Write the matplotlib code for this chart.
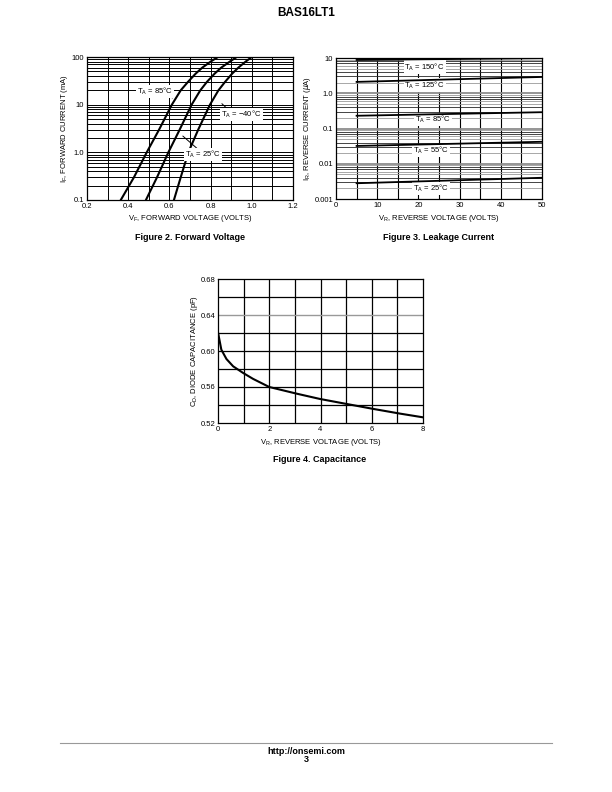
#!/usr/bin/env python3
"""BAS16LT1 datasheet page 3: forward voltage, leakage current, capacitance."""
import matplotlib
matplotlib.use("Agg")
import matplotlib.pyplot as plt
from matplotlib.ticker import FixedLocator, NullFormatter

plt.rcParams["font.family"] = ["Liberation Sans", "DejaVu Sans"]
plt.rcParams["mathtext.fontset"] = "custom"
plt.rcParams["mathtext.rm"] = "Liberation Sans"

W, H = 612, 792

# Figure 2: forward voltage (VF volts, IF mA)
IF_PTS = [0.1, 0.3, 1, 3, 10, 20, 30, 45, 60, 80, 100]
VF_85 = [0.364, 0.428, 0.49, 0.55, 0.612, 0.655, 0.690, 0.728, 0.760, 0.800, 0.836]
VF_25 = [0.486, 0.540, 0.595, 0.65, 0.708, 0.750, 0.782, 0.820, 0.852, 0.893, 0.927]
VF_M40 = [0.622, 0.655, 0.692, 0.74, 0.797, 0.838, 0.870, 0.905, 0.935, 0.970, 1.000]

# Figure 3: leakage current (VR volts, IR uA)
VR_PTS = [5, 50]
IR_150 = [8.8, 9.9]
IR_125 = [2.1, 2.9]
IR_85 = [0.23, 0.29]
IR_55 = [0.032, 0.042]
IR_25 = [0.0028, 0.004]

# Figure 4: capacitance (VR volts, CD pF)
VR_CAP = [0, 0.13, 0.33, 0.59, 0.98, 1.37, 2.0, 3.07, 3.98, 5.03, 6.07, 7.11, 8.0]
CD_CAP = [0.6207, 0.6015, 0.5911, 0.583, 0.5756, 0.569, 0.560, 0.5526,
          0.5467, 0.5411, 0.5356, 0.5304, 0.5263]

TICK_FS = 5.5
LAB_FS = 5.5
CAP_FS = 6.5


def rect(left, top, right, bottom):
    return [left / W, 1 - bottom / H, (right - left) / W, (bottom - top) / H]


def log_minor(lo_exp, hi_exp):
    vals = []
    for e in range(lo_exp, hi_exp):
        for m in range(2, 10):
            vals.append(m * 10.0 ** e)
    return vals


def style_axes(ax):
    for sp in ax.spines.values():
        sp.set_linewidth(0.9)
        sp.set_color("black")
    ax.tick_params(which="both", length=0, labelsize=TICK_FS, pad=2)


def tlabel(ax, x, y, s):
    ax.text(x, y, s, fontsize=5.5, ha="center", va="center", zorder=6,
            bbox=dict(boxstyle="square,pad=0.12", fc="white", ec="none"))


fig = plt.figure(figsize=(W / 100, H / 100), dpi=100)
fig.text(306 / W, 1 - 13 / H, "BAS16LT1", ha="center", va="center",
         fontsize=8.5, fontweight="bold")

# ---- Figure 2 ----
ax2 = fig.add_axes(rect(87, 57, 293, 200))
ax2.set_xlim(0.2, 1.2)
ax2.set_yscale("log")
ax2.set_ylim(0.1, 100)
for v in [0.3 + 0.1 * i for i in range(9)]:
    ax2.axvline(v, color="black", lw=0.7, zorder=1)
for yv in log_minor(-1, 2) + [1, 10]:
    ax2.axhline(yv, color="black", lw=0.7, zorder=1)
ax2.plot(VF_85, IF_PTS, color="black", lw=1.5, zorder=4)
ax2.plot(VF_25, IF_PTS, color="black", lw=1.5, zorder=4)
ax2.plot(VF_M40, IF_PTS, color="black", lw=1.5, zorder=4)
ax2.set_xticks([0.2, 0.4, 0.6, 0.8, 1.0, 1.2])
ax2.set_xticklabels(["0.2", "0.4", "0.6", "0.8", "1.0", "1.2"])
ax2.yaxis.set_major_locator(FixedLocator([0.1, 1, 10, 100]))
ax2.set_yticklabels(["0.1", "1.0", "10", "100"])
ax2.yaxis.set_minor_formatter(NullFormatter())
style_axes(ax2)
tlabel(ax2, 0.53, 19.0, r"T$_\mathregular{A}$ = 85°C")
ax2.annotate("", xy=(0.627, 13.0), xytext=(0.575, 17.0),
             arrowprops=dict(arrowstyle="-", color="black", lw=0.7), zorder=5)
tlabel(ax2, 0.95, 6.2, r"T$_\mathregular{A}$ = $-$40°C")
ax2.annotate("", xy=(0.845, 11.5), xytext=(0.895, 7.2),
             arrowprops=dict(arrowstyle="-", color="black", lw=0.7), zorder=5)
tlabel(ax2, 0.765, 0.9, r"T$_\mathregular{A}$ = 25°C")
ax2.annotate("", xy=(0.655, 2.4), xytext=(0.745, 1.1),
             arrowprops=dict(arrowstyle="-", color="black", lw=0.7), zorder=5)
ax2.set_xlabel(r"V$_\mathregular{F}$, FORWARD VOLTAGE (VOLTS)", fontsize=LAB_FS, labelpad=2)
ax2.set_ylabel(r"I$_\mathregular{F}$, FORWARD CURRENT (mA)", fontsize=LAB_FS, labelpad=1)
fig.text(190 / W, 1 - 237 / H, "Figure 2. Forward Voltage", ha="center",
         va="center", fontsize=CAP_FS, fontweight="bold")

# ---- Figure 3 ----
ax3 = fig.add_axes(rect(336, 58, 542, 199))
ax3.set_xlim(0, 50)
ax3.set_yscale("log")
ax3.set_ylim(0.001, 10)
for v in range(5, 50, 5):
    ax3.axvline(v, color="black", lw=0.8, zorder=1)
minors = log_minor(-3, 1)
for i, yv in enumerate(minors):
    col = "0.6" if i % 4 in (0, 3) else "0.15"
    ax3.axhline(yv, color=col, lw=0.6, zorder=1)
for yv in [0.01, 0.1, 1]:
    ax3.axhline(yv, color="0.55", lw=1.3, zorder=1)
for ys in [IR_150, IR_125, IR_85, IR_55, IR_25]:
    ax3.plot(VR_PTS, ys, color="black", lw=1.3, zorder=7)
ax3.set_xticks([0, 10, 20, 30, 40, 50])
ax3.yaxis.set_major_locator(FixedLocator([0.001, 0.01, 0.1, 1, 10]))
ax3.set_yticklabels(["0.001", "0.01", "0.1", "1.0", "10"])
ax3.yaxis.set_minor_formatter(NullFormatter())
style_axes(ax3)
tlabel(ax3, 21.5, 5.6, r"T$_\mathregular{A}$ = 150°C")
tlabel(ax3, 21.5, 1.7, r"T$_\mathregular{A}$ = 125°C")
tlabel(ax3, 23.5, 0.18, r"T$_\mathregular{A}$ = 85°C")
tlabel(ax3, 23.0, 0.024, r"T$_\mathregular{A}$ = 55°C")
tlabel(ax3, 23.0, 0.0020, r"T$_\mathregular{A}$ = 25°C")
ax3.set_xlabel(r"V$_\mathregular{R}$, REVERSE VOLTAGE (VOLTS)", fontsize=LAB_FS, labelpad=3)
ax3.set_ylabel(r"I$_\mathregular{R}$, REVERSE CURRENT ($\mu$A)", fontsize=LAB_FS, labelpad=1)
fig.text(439 / W, 1 - 237 / H, "Figure 3. Leakage Current", ha="center",
         va="center", fontsize=CAP_FS, fontweight="bold")

# ---- Figure 4 ----
ax4 = fig.add_axes(rect(218, 279, 423, 423))
ax4.set_xlim(0, 8)
ax4.set_ylim(0.52, 0.68)
for v in range(1, 8):
    ax4.axvline(v, color="black", lw=0.9, zorder=1)
for yv in [0.54, 0.56, 0.58, 0.60, 0.62, 0.66]:
    ax4.axhline(yv, color="black", lw=0.9, zorder=1)
ax4.axhline(0.64, color="0.6", lw=1.0, zorder=1)
ax4.plot(VR_CAP, CD_CAP, color="black", lw=1.5, zorder=4)
ax4.set_xticks([0, 2, 4, 6, 8])
ax4.set_yticks([0.52, 0.56, 0.60, 0.64, 0.68])
ax4.set_yticklabels(["0.52", "0.56", "0.60", "0.64", "0.68"])
style_axes(ax4)
ax4.set_xlabel(r"V$_\mathregular{R}$, REVERSE VOLTAGE (VOLTS)", fontsize=LAB_FS, labelpad=3)
ax4.set_ylabel(r"C$_\mathregular{D}$, DIODE CAPACITANCE (pF)", fontsize=LAB_FS, labelpad=0)
fig.text(320 / W, 1 - 460 / H, "Figure 4. Capacitance", ha="center",
         va="center", fontsize=CAP_FS, fontweight="bold")

# footer
fig.add_artist(plt.Line2D([60 / W, 552 / W], [1 - 743 / H, 1 - 743 / H],
                          color="0.6", lw=0.8))
fig.text(306 / W, 1 - 751 / H, "http://onsemi.com", ha="center", va="center",
         fontsize=6.5, fontweight="bold")
fig.text(306 / W, 1 - 760 / H, "3", ha="center", va="center",
         fontsize=6.5, fontweight="bold")

fig.savefig("out.png", dpi=100)
